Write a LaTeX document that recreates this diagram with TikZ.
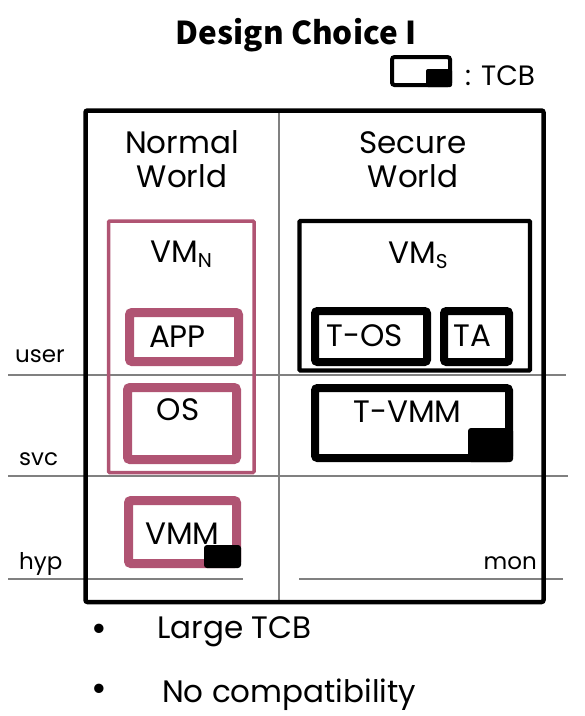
\documentclass[tikz,border=0pt]{standalone}
\usepackage{fontspec}
\setmainfont{Poppins}
\newfontfamily\titlefont{Noto Sans CJK SC}
\usepackage{tikz}
\usetikzlibrary{positioning}

\definecolor{vmpink}{RGB}{176,84,115}
\definecolor{lvlgray}{RGB}{128,128,128}

\begin{document}
\begin{tikzpicture}[x=1pt,y=-1pt,
	box/.style={draw=black,rounded corners=2.5pt,inner sep=0pt},
	thickbox/.style={box,line width=8pt},
	pinkbox/.style={box,draw=vmpink,line width=9pt},
	tcb/.style={fill=black,rounded corners=3pt,inner sep=0pt},
	lbl/.style={anchor=base,inner sep=0pt,font=\fontsize{31}{34}\selectfont},
	lvl/.style={anchor=base west,inner sep=0pt,font=\fontsize{23}{26}\selectfont},
	dot/.style={anchor=base,inner sep=0pt,font=\fontsize{38}{38}\selectfont},
	level/.style={draw=lvlgray,line width=1.8pt}]
	\useasboundingbox (0,0) rectangle (585,716);
	
	% privilege levels
	\draw[level] (8,375) -- (566,375);
	\draw[level] (8,476) -- (568,476);
	\draw[level] (8,579) -- (243,579);
	\draw[level] (299,579) -- (563,579);
	\draw[level] (279,112) -- (279,600);
	
	\node[lvl] (u) at (15,362) {user};
	\node[lvl] (s) at (19,465) {svc};
	\node[lvl] (h) at (19,569) {hyp};
	\node[lvl,anchor=base east] (m) at (537,569) {mon};
	
	% title and legend
	\node[anchor=base,inner sep=0pt,font=\titlefont\bfseries\fontsize{31.5}{33}\selectfont] (T) at (296,44) {Design Choice I};
	\node[box,line width=4pt,minimum width=58pt,minimum height=28pt] (L) at (421,71) {};
	\node[tcb,rounded corners=2pt,minimum width=26pt,minimum height=18pt] (L1) at (439,78) {};
	\node[lbl,anchor=base west,font=\fontsize{28}{30}\selectfont] (L2) at (465,85) {: TCB};
	
	% worlds
	\node[box,line width=4.5pt,rounded corners=2pt,minimum width=458pt,minimum height=491.5pt] (W) at (314.5,356.25) {};
	\node[lbl] (W1) at (182,153) {Normal};
	\node[lbl] (W2) at (182,187) {World};
	\node[lbl] (W3) at (413,153) {Secure};
	\node[lbl] (W4) at (413,187) {World};
	
	% normal world
	\node[box,draw=vmpink,line width=3.5pt,rounded corners=1pt,minimum width=145.5pt,minimum height=251.5pt] (A) at (181.25,346.75) {};
	\node[lbl] (A1) at (181,262) {VM\raisebox{-5pt}{\fontsize{20}{20}\selectfont N}};
	\node[pinkbox,minimum width=109pt,minimum height=49pt] (B) at (184,337) {};
	\node[lbl] (B1) at (177.5,347) {APP};
	\node[pinkbox,minimum width=109pt,minimum height=72pt] (C) at (182,423.5) {};
	\node[lbl] (C1) at (178,420) {OS};
	\node[pinkbox,minimum width=108pt,minimum height=63pt] (D) at (182.5,532) {};
	\node[lbl] (D1) at (182.5,544) {VMM};
	\node[tcb,minimum width=37pt,minimum height=23pt] (D2) at (222.5,556.5) {};
	
	% secure world
	\node[box,line width=4.3pt,rounded corners=1pt,minimum width=230.5pt,minimum height=149.5pt] (E) at (414.75,295.75) {};
	\node[lbl] (E1) at (418,263) {VM\raisebox{-5pt}{\fontsize{20}{20}\selectfont S}};
	\node[thickbox,minimum width=112pt,minimum height=51pt] (F) at (371,336.5) {};
	\node[lbl] (F1) at (364.5,346) {T-OS};
	\node[thickbox,minimum width=65pt,minimum height=51pt] (G) at (476.5,336.5) {};
	\node[lbl] (G1) at (472.5,346) {TA};
	\node[thickbox,minimum width=194pt,minimum height=70pt] (H) at (412,423) {};
	\node[lbl] (H1) at (407.5,422) {T-VMM};
	\node[tcb,minimum width=45pt,minimum height=34pt] (H2) at (490.5,445) {};
	
	% remarks
	\node[dot] (R1) at (99,641) {•};
	\node[lbl,anchor=base west] (R2) at (157,638) {Large TCB};
	\node[dot] (R3) at (99,701) {•};
	\node[lbl,anchor=base west] (R4) at (162,702) {No compatibility};
\end{tikzpicture}
\end{document}
